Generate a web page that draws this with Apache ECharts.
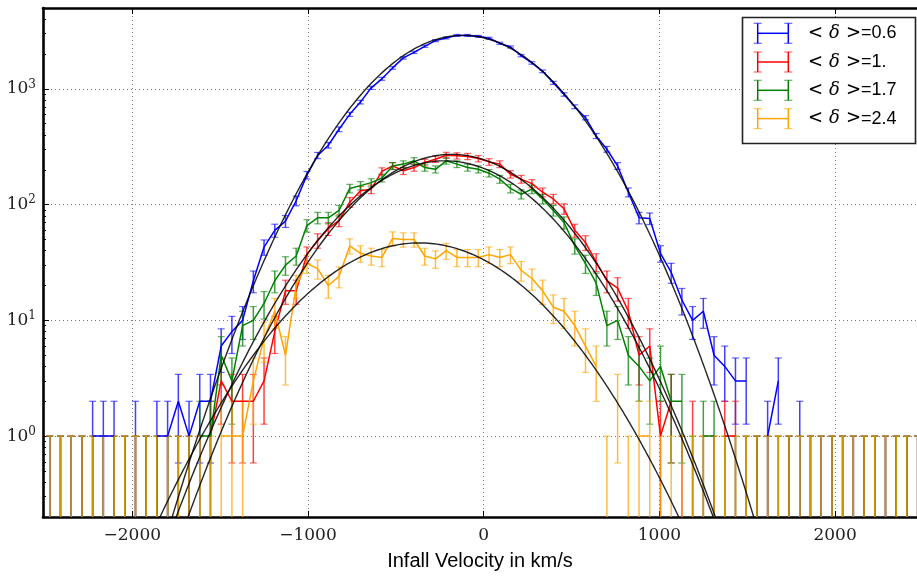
<!DOCTYPE html>
<html><head><meta charset="utf-8">
<script src="https://cdn.jsdelivr.net/npm/echarts@6/dist/echarts.min.js"></script>
<style>html,body{margin:0;padding:0;background:#fff}#c{width:917px;height:576px}</style>
</head><body><div id="c"></div>
<script>
// bin centres (km/s)
const binCenters = [-2469.5,-2408.5,-2347.6,-2286.6,-2225.6,-2164.6,-2103.7,-2042.7,-1981.7,-1920.7,
-1859.8,-1798.8,-1737.8,-1676.8,-1615.9,-1554.9,-1493.9,-1432.9,-1372.0,-1311.0,
-1250.0,-1189.0,-1128.0,-1067.1,-1006.1,-945.1,-884.1,-823.2,-762.2,-701.2,
-640.2,-579.3,-518.3,-457.3,-396.3,-335.4,-274.4,-213.4,-152.4,-91.5,
-30.5,30.5,91.5,152.4,213.4,274.4,335.4,396.3,457.3,518.3,
579.3,640.2,701.2,762.2,823.2,884.1,945.1,1006.1,1067.1,1128.0,
1189.0,1250.0,1311.0,1372.0,1432.9,1493.9,1554.9,1615.9,1676.8,1737.8,
1798.8,1859.8,1920.7,1981.7,2042.7,2103.7,2164.6,2225.6,2286.6,2347.6,
2408.5,2469.5];
// counts per bin
const countsD06 = [0,0,0,0,1,1,1,0,1,0,
1,1,2,1,2,2,6,8,10,22,
43,60,72,108,180,266,326,448,603,769,
1022,1222,1518,1852,2070,2333,2612,2754,2900,2900,
2844,2740,2480,2303,1938,1676,1419,1128,895,701,
564,392,301,216,128,77,76,38,26,15,
10,12,5,4,3,3,0,1,3,0,
1,0,0,0,0,0,0,0,0,0,
0,0];
const countsD10 = [0,0,0,0,0,0,0,0,0,0,
0,0,0,0,0,1,3,2,2,2,
3,8,18,18,37,49,62,73,105,132,
136,194,216,196,209,231,247,267,264,261,
250,234,224,183,166,152,128,112,92,60,
47,32,22,19,12,5,6,1,2,0,
1,0,0,1,1,0,0,0,0,0,
0,0,0,0,0,0,0,0,0,0,
0,0];
const countsD17 = [0,0,0,0,0,0,0,0,0,0,
0,0,0,0,1,1,5,3,9,10,
14,22,30,36,66,77,77,89,138,146,
155,170,216,224,239,209,202,239,224,209,
202,187,166,138,123,136,112,89,70,44,
31,21,9,10,5,4,3,4,2,2,
0,1,1,0,0,0,0,0,0,0,
0,0,0,0,0,0,0,0,0,0,
0,0];
const countsD24 = [0,0,0,0,0,0,0,0,0,0,
0,0,0,0,0,0,1,1,1,3,
7,12,5,20,31,28,20,24,44,38,
36,35,51,50,50,36,34,40,35,35,
35,37,35,37,27,23,18,13,12,9,
6,4,0,2,0,1,1,0,0,0,
0,0,0,0,0,0,0,0,0,0,
0,0,0,0,0,0,0,0,0,0,
0,0];
// gaussian fits: amplitude, mean, sigma
const fitAmp = [2900, 272, 239, 46.7];
const fitMean = [-118, -182, -222, -366];
const fitSigma = [378, 395, 406, 447];
const seriesNames = ['< δ >=0.6', '< δ >=1.', '< δ >=1.7', '< δ >=2.4'];
const deltaLabels = ['0.6', '1.', '1.7', '2.4'];
const colors = ['#0000ff', '#ff0000', '#008000', '#ffa500'];
const yMinorTicks = [0.3,0.4,0.5,0.6,0.7,0.8,0.9,2,3,4,5,6,7,8,9,20,30,40,50,60,70,80,90,200,300,400,500,600,700,800,900,2000,3000,4000];

const X_MIN = -2508, X_MAX = 2466, Y_MIN = 0.2, Y_MAX = 5000;
const allCounts = [countsD06, countsD10, countsD17, countsD24];

const chart = echarts.init(document.getElementById('c'), null, {renderer: 'canvas'});

function errData(counts) {
  return binCenters.map((x, i) => {
    const n = counts[i];
    const e = n > 0 ? Math.sqrt(n) : 1;
    return [x, n - e, n + e];
  });
}
function lineData(counts) {
  return binCenters.map((x, i) => [x, counts[i] > 0 ? counts[i] : '-']);
}
function fitData(k) {
  const pts = [];
  for (let v = X_MIN; v <= X_MAX; v += 8) {
    pts.push([v, fitAmp[k] * Math.exp(-Math.pow(v - fitMean[k], 2) / (2 * fitSigma[k] * fitSigma[k]))]);
  }
  return pts;
}

const series = [];
allCounts.forEach((counts, k) => {
  const col = colors[k];
  series.push({
    type: 'custom', name: seriesNames[k], silent: true, z: 2 + k,
    data: errData(counts),
    encode: {x: 0, y: [1, 2]},
    renderItem: function (params, api) {
      const x = api.value(0), lo = api.value(1), hi = api.value(2);
      const top = api.coord([x, hi]);
      const hasLo = lo > Y_MIN;
      const bot = api.coord([x, hasLo ? lo : Y_MIN]);
      const cw = 3.5;
      const ch = [
        {type: 'line', shape: {x1: top[0], y1: top[1], x2: bot[0], y2: bot[1]}, style: {stroke: col, lineWidth: 1.5, opacity: 0.75}},
        {type: 'line', shape: {x1: top[0] - cw, y1: top[1], x2: top[0] + cw, y2: top[1]}, style: {stroke: col, lineWidth: 1.2, opacity: 0.6}}
      ];
      if (hasLo) ch.push({type: 'line', shape: {x1: bot[0] - cw, y1: bot[1], x2: bot[0] + cw, y2: bot[1]}, style: {stroke: col, lineWidth: 1.2, opacity: 0.6}});
      return {type: 'group', children: ch};
    }
  });
  series.push({
    type: 'line', name: seriesNames[k] + ' line', data: lineData(counts), showSymbol: false, symbol: 'none',
    connectNulls: false, z: 6 + k, silent: true,
    lineStyle: {color: col, width: 1.5}
  });
});
[0, 1, 2, 3].forEach(k => {
  series.push({
    type: 'line', name: 'fit' + k, data: fitData(k), showSymbol: false, symbol: 'none', z: 12, silent: true,
    clip: true, smooth: false,
    lineStyle: {color: '#000', width: 1.4, opacity: 0.85}
  });
});
// minor ticks on the y axis (helper linear axis in log10 space)
series.push({type: 'line', data: [], yAxisIndex: 1});

const serif = "'DejaVu Serif', 'Liberation Serif', serif";
const sans = "'Liberation Sans', Arial, sans-serif";

const legendChildren = [{
  type: 'rect', shape: {x: 742.5, y: 17.5, width: 173, height: 126},
  style: {fill: '#fff', stroke: '#222', lineWidth: 1.6}, z: 100
}];
const legY = [33.3, 62, 90.3, 118.6];
legY.forEach((yy, k) => {
  const col = colors[k];
  const x1 = 757.7, x2 = 788.3, h = 10, cw = 4;
  legendChildren.push(
    {type: 'line', shape: {x1: x1, y1: yy, x2: x2, y2: yy}, style: {stroke: col, lineWidth: 1.5}, z: 101},
    {type: 'line', shape: {x1: x1, y1: yy - h, x2: x1, y2: yy + h}, style: {stroke: col, lineWidth: 1.5}, z: 101},
    {type: 'line', shape: {x1: x2, y1: yy - h, x2: x2, y2: yy + h}, style: {stroke: col, lineWidth: 1.5}, z: 101},
    {type: 'line', shape: {x1: x1 - cw, y1: yy - h, x2: x1 + cw, y2: yy - h}, style: {stroke: col, lineWidth: 1.2, opacity: 0.6}, z: 101},
    {type: 'line', shape: {x1: x1 - cw, y1: yy + h, x2: x1 + cw, y2: yy + h}, style: {stroke: col, lineWidth: 1.2, opacity: 0.6}, z: 101},
    {type: 'line', shape: {x1: x2 - cw, y1: yy - h, x2: x2 + cw, y2: yy - h}, style: {stroke: col, lineWidth: 1.2, opacity: 0.6}, z: 101},
    {type: 'line', shape: {x1: x2 - cw, y1: yy + h, x2: x2 + cw, y2: yy + h}, style: {stroke: col, lineWidth: 1.2, opacity: 0.6}, z: 101},
    {type: 'text', x: 808, y: yy, z: 101, style: {
      text: '{m|<}{d|δ}{n|>}{t|=' + deltaLabels[k] + '}',
      verticalAlign: 'middle', fill: '#000',
      rich: {
        m: {fontFamily: serif, fontSize: 18, padding: [0, 6, 0, 0]},
        d: {fontFamily: serif, fontStyle: 'italic', fontSize: 18, padding: [0, 6, 0, 0]},
        n: {fontFamily: serif, fontSize: 18},
        t: {fontFamily: sans, fontSize: 18}
      }
    }}
  );
});

const option = {
  animation: false,
  backgroundColor: '#fff',
  grid: {left: 43, right: 0, top: 8, bottom: 57, containLabel: false},
  xAxis: [{
    type: 'value', min: X_MIN, max: X_MAX, position: 'bottom',
    axisLine: {show: true, onZero: false, lineStyle: {color: '#000', width: 2.6}},
    axisTick: {show: true, inside: true, length: 6, lineStyle: {color: '#000', width: 1}},
    axisLabel: {showMinLabel: false, showMaxLabel: false, margin: 10, color: '#222', fontFamily: serif, fontSize: 17,
      formatter: v => v < 0 ? '\u2212' + (-v) : String(v)},
    splitLine: {show: true, lineStyle: {color: '#777', type: [1, 3], width: 1}},
    name: 'Infall Velocity in km/s', nameLocation: 'middle', nameGap: 34,
    nameTextStyle: {fontFamily: sans, fontSize: 20, color: '#000'}
  }, {
    type: 'value', min: X_MIN, max: X_MAX, position: 'top',
    axisLine: {show: true, onZero: false, lineStyle: {color: '#000', width: 2.6}},
    axisTick: {show: true, inside: true, length: 6, lineStyle: {color: '#000', width: 1}},
    axisLabel: {show: false}, splitLine: {show: false}
  }],
  yAxis: [{
    type: 'log', logBase: 10, min: Y_MIN, max: Y_MAX,
    axisLine: {show: true, onZero: false, lineStyle: {color: '#000', width: 2.6}},
    axisTick: {show: true, inside: true, length: 6, lineStyle: {color: '#000', width: 1}},
    axisLabel: {showMinLabel: false, showMaxLabel: false, margin: 7,
      formatter: v => '{b|10}{s|' + Math.round(Math.log10(v)) + '}',
      rich: {b: {fontFamily: serif, fontSize: 17, color: '#222'},
             s: {fontFamily: serif, fontSize: 12, color: '#222', verticalAlign: 'bottom', padding: [0, 0, 9, 0]}}},
    splitLine: {show: true, lineStyle: {color: '#777', type: [1, 3], width: 1}}
  }, {
    type: 'value', min: Math.log10(Y_MIN), max: Math.log10(Y_MAX), position: 'left',
    axisLine: {show: false, onZero: false},
    axisTick: {show: true, inside: true, length: 3, customValues: yMinorTicks.map(v => Math.log10(v)), lineStyle: {color: '#000', width: 1}},
    axisLabel: {show: false}, splitLine: {show: false}
  }],
  graphic: legendChildren,
  series: series
};
chart.setOption(option);
</script></body></html>
